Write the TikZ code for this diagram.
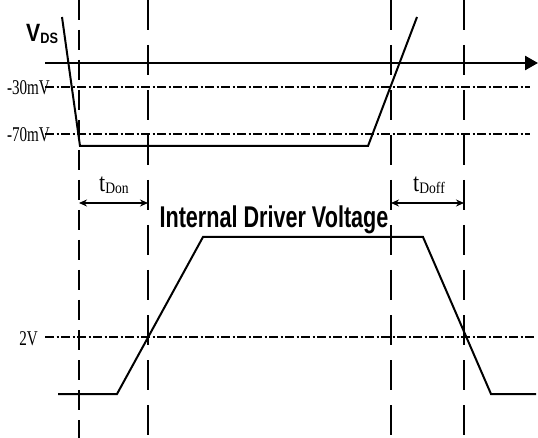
\documentclass[tikz,border=0pt]{standalone}
\usepackage{fontspec}
\setmainfont{Liberation Serif}
\newfontfamily\arialfont{Liberation Sans}
\usetikzlibrary{arrows.meta}
\tikzset{
  level/.style={line width=1.1pt, dash pattern=on 9pt off 2.5pt on 2pt off 2.5pt},
  edge/.style={line width=1.8pt, dash pattern=on 30pt off 15pt},
  edgeshort/.style={line width=1.8pt, dash pattern=on 20pt off 10pt},
  trace/.style={line width=2pt, line join=miter},
  span/.style={line width=1.2pt, {Stealth[length=8pt,width=7pt]}-{Stealth[length=8pt,width=7pt]}},
  vlabel/.style={font=\fontsize{21}{21}\selectfont, xscale=0.72, inner sep=0pt},
  tlabel/.style={font=\fontsize{26}{26}\selectfont, xscale=0.85, inner sep=0pt, anchor=base}
}
\newcommand\lowsub[1]{\raisebox{-1.5pt}{\fontsize{16}{16}\selectfont #1}}
\begin{document}
\begin{tikzpicture}[x=1pt, y=-1pt]
    \useasboundingbox (0,0) rectangle (538,438);
    \coordinate (e1t) at (79,0);   \coordinate (e1b) at (79,438);
    \coordinate (e2t) at (148,0);  \coordinate (e2b) at (148,438);
    \coordinate (e3t) at (391,0);  \coordinate (e3b) at (391,438);
    \coordinate (e4t) at (464,0);  \coordinate (e4b) at (464,438);
    \draw [edgeshort] (e1t) -- (e1b);
    \draw [edge] (e2t) -- (e2b);
    \draw [edge] (e3t) -- (e3b);
    \draw [edge] (e4t) -- (e4b);
    \coordinate (axs) at (45,63);
    \coordinate (axe) at (538,63);
    \draw [line width=2.5pt, -{Triangle[length=13pt,width=14pt]}] (axs) -- (axe);
    \node [vlabel, anchor=base east] (l30) at (50,95) {-30mV};
    \node [vlabel, anchor=base east] (l70) at (50,142) {-70mV};
    \node [vlabel, anchor=base east] (l2v) at (38,345) {2V};
    \draw [level] (45,87) -- (530,87);
    \draw [level] (45,134) -- (530,134);
    \draw [level] (45,337) -- (536,337);
    \node [anchor=base west, inner sep=0pt, xscale=0.85, font=\arialfont\bfseries\fontsize{25}{25}\selectfont] (vds) at (26,42) {V\raisebox{-2pt}{\fontsize{15}{15}\selectfont DS}};
    \coordinate (v0) at (62,17);
    \coordinate (v1) at (80,146);
    \coordinate (v2) at (368,146);
    \coordinate (v3) at (417,17);
    \draw [trace] (v0) -- (v1) -- (v2) -- (v3);
    \coordinate (d0) at (58,394);
    \coordinate (d1) at (117,394);
    \coordinate (d2) at (203,237);
    \coordinate (d3) at (423,237);
    \coordinate (d4) at (491,394);
    \coordinate (d5) at (536,394);
    \draw [trace] (d0) -- (d1) -- (d2) -- (d3) -- (d4) -- (d5);
    \coordinate (on0) at (79,203);
    \coordinate (on1) at (148,203);
    \coordinate (off0) at (391,203);
    \coordinate (off1) at (464,203);
    \draw [span] (on0) -- (on1);
    \draw [span] (off0) -- (off1);
    \node [tlabel] (ton) at (114,192) {t\lowsub{Don}};
    \node [tlabel] (toff) at (429,192) {t\lowsub{Doff}};
    \node [anchor=base, inner sep=0pt, xscale=0.72, font=\arialfont\bfseries\fontsize{30}{30}\selectfont] (idv) at (274,228) {Internal Driver Voltage};
\end{tikzpicture}
\end{document}
